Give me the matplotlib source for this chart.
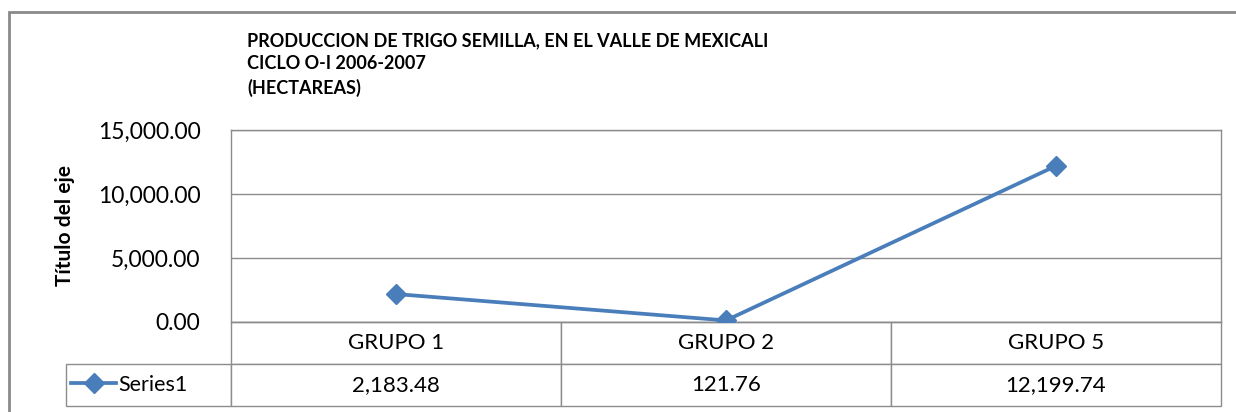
import matplotlib.pyplot as plt
from matplotlib.patches import Rectangle

# data
categories = ['GRUPO 1', 'GRUPO 2', 'GRUPO 5']
values = [2183.48, 121.76, 12199.74]
series_name = 'Series1'
y_ticks = [0, 5000, 10000, 15000]

title = 'PRODUCCION DE TRIGO SEMILLA, EN EL VALLE DE MEXICALI\nCICLO O-I 2006-2007\n(HECTAREAS)'
blue = '#4a7ebb'
grid_gray = '#8c8c8c'

plt.rcParams['font.family'] = ['Lato', 'DejaVu Sans']

W, H = 1236, 412
fig = plt.figure(figsize=(W / 100, H / 100), dpi=100)

# outer chart frame (only top and left edges visible)
fig.patches.append(Rectangle((9 / W, -0.2), 1.2, 1 - 12 / H + 0.2,
                             transform=fig.transFigure, fill=False,
                             edgecolor='#8a8a8a', linewidth=2))

ax = fig.add_axes([231 / W, 1 - 322 / H, 990 / W, 192 / H])
x = range(len(categories))
ax.plot(x, values, color=blue, linewidth=2.7, marker='D', markersize=10,
        label=series_name, zorder=3)
ax.set_xlim(-0.5, len(categories) - 0.5)
ax.set_ylim(0, 15000)
ax.set_yticks(y_ticks)
ax.set_yticklabels([f'{v:,.2f}' for v in y_ticks], fontsize=16.5)
ax.tick_params(axis='y', length=0, pad=22)
ax.set_xticks([])
ax.grid(axis='y', color=grid_gray, linewidth=1)
for s in ax.spines.values():
    s.set_color(grid_gray)
    s.set_linewidth(1)
ax.set_ylabel('Título del eje', fontsize=15, fontweight='bold', labelpad=16)

# data table under the plot (first column holds the legend key)
row_w = 165 / 990
tbl = ax.table(cellText=[[''] + [f'{v:,.2f}' for v in values]],
               colLabels=[''] + categories,
               colWidths=[row_w] + [1 / len(categories)] * len(categories),
               cellLoc='center',
               bbox=[-row_w, -84 / 192, 1 + row_w, 84 / 192])
tbl.auto_set_font_size(False)
tbl.set_fontsize(16)
for (r, c), cell in tbl.get_celld().items():
    cell.set_edgecolor(grid_gray)
    cell.set_linewidth(1)
    if r == 0 and c == 0:
        cell.set_visible(False)

# legend key inside the row-label cell
ax.legend(loc='center left', bbox_to_anchor=(-160 / 990, -63 / 192),
          frameon=False, fontsize=15.5, handlelength=2.1, handletextpad=0.1,
          borderpad=0, borderaxespad=0)

fig.text(247 / W, 1 - 32 / H, title, fontsize=13, fontweight='bold',
         va='top', ha='left', linespacing=1.45)

fig.savefig('out.png', dpi=100)
